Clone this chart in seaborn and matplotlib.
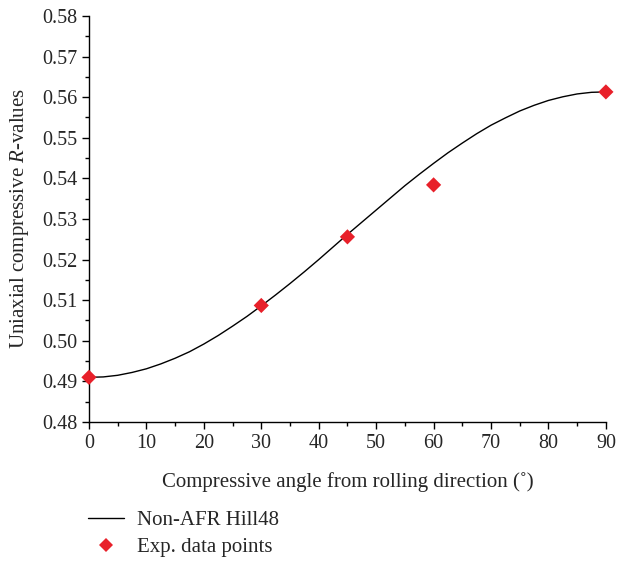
import matplotlib
matplotlib.use("Agg")
import matplotlib.pyplot as plt
import seaborn as sns
import pandas as pd
from matplotlib.ticker import MultipleLocator, FormatStrFormatter
from matplotlib.lines import Line2D

sns.set_style("ticks")
plt.rcParams['font.family'] = ['Liberation Serif', 'DejaVu Serif']
plt.rcParams['mathtext.fontset'] = 'custom'
plt.rcParams['mathtext.it'] = 'Liberation Serif:italic'
plt.rcParams['mathtext.rm'] = 'Liberation Serif'

# Model curve (Non-AFR Hill48)
curve_angle = [0, 2.5, 5, 7.5, 10, 12.5, 15, 17.5, 20, 22.5, 25, 27.5, 30, 32.5, 35, 37.5,
               40, 42.5, 45, 47.5, 50, 52.5, 55, 57.5, 60, 62.5, 65, 67.5, 70, 72.5, 75,
               77.5, 80, 82.5, 85, 87.5, 90]
curve_r = [0.4910, 0.4911, 0.4915, 0.4922, 0.4931, 0.4943, 0.4957, 0.4973, 0.4992, 0.5013,
           0.5036, 0.5060, 0.5086, 0.5113, 0.5141, 0.5170, 0.5200, 0.5231, 0.5262, 0.5292,
           0.5322, 0.5352, 0.5382, 0.5410, 0.5437, 0.5463, 0.5487, 0.5510, 0.5531, 0.5549,
           0.5566, 0.5580, 0.5592, 0.5601, 0.5608, 0.5612, 0.5613]

# Experimental data points
exp_angle = [0, 30, 45, 60, 90]
exp_r = [0.491, 0.5087, 0.5256, 0.5384, 0.5613]

curve_df = pd.DataFrame({"angle": curve_angle, "r": curve_r})
exp_df = pd.DataFrame({"angle": exp_angle, "r": exp_r})

fig = plt.figure(figsize=(6.17, 5.61), dpi=100)
ax = fig.add_axes([0.1442, 0.2478, 0.982 - 0.1442, 0.9715 - 0.2478])

sns.lineplot(data=curve_df, x="angle", y="r", ax=ax, color="black", linewidth=1.0)
sns.scatterplot(data=exp_df, x="angle", y="r", ax=ax, marker="D", color="#e8202a",
                s=60, edgecolor="none", clip_on=False, zorder=5)

ax.set_xlim(0, 90)
ax.set_ylim(0.48, 0.58)
ax.xaxis.set_major_locator(MultipleLocator(10))
ax.xaxis.set_minor_locator(MultipleLocator(5))
ax.yaxis.set_major_locator(MultipleLocator(0.01))
ax.yaxis.set_minor_locator(MultipleLocator(0.005))
ax.yaxis.set_major_formatter(FormatStrFormatter("%.2f"))
ax.tick_params(which="major", direction="out", length=5, width=1, labelsize=14.5, color="black")
ax.tick_params(which="minor", direction="out", length=3, width=1, color="black")
for s in ["left", "bottom"]:
    ax.spines[s].set_color("black")
    ax.spines[s].set_linewidth(1)
sns.despine(ax=ax)

ax.set_xlabel("Compressive angle from rolling direction (˚)", fontsize=15, labelpad=14)
ax.set_ylabel("Uniaxial compressive $\\mathit{R}$-values", fontsize=15, labelpad=8)

handles = [
    Line2D([0], [0], color="black", linewidth=1.0),
    Line2D([0], [0], marker="D", color="#e8202a", linestyle="none", markersize=7.5, markeredgewidth=0),
]
fig.legend(handles, ["Non-AFR Hill48", "Exp. data points"], loc="upper left",
           bbox_to_anchor=(0.1426, 0.09), frameon=False, fontsize=15,
           handlelength=1.75, handletextpad=0.6, labelspacing=0.35,
           borderpad=0, borderaxespad=0)

fig.savefig("out.png", dpi=100)
